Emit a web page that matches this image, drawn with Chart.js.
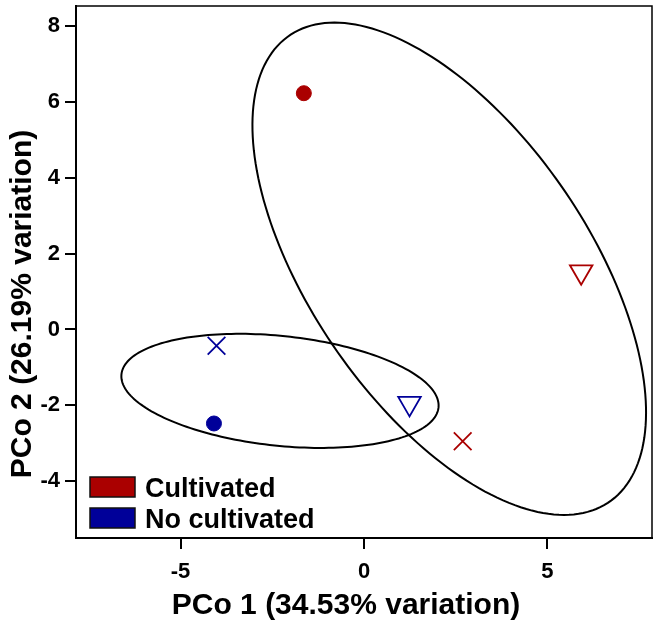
<!DOCTYPE html>
<html>
<head>
<meta charset="utf-8">
<script src="https://cdn.jsdelivr.net/npm/chart.js@4.4.0/dist/chart.umd.min.js"></script>
<style>
  html, body { margin: 0; padding: 0; background: #fff; }
  #wrap { width: 659px; height: 626px; }
</style>
</head>
<body>
<div id="wrap"><canvas id="grafico" width="659" height="626"></canvas></div>
<script>
// datos
const grupos = ["Cultivated", "No cultivated"];
const colores = ["#aa0000", "#000099"];
const formas = ["circle", "crossRot", "triangle"];

const cultX = [-1.64, 2.69, 5.92];
const cultY = [6.23, -2.95, 1.52];
const noCultX = [-4.09, -4.02, 1.24];
const noCultY = [-2.48, -0.43, -1.95];

const xTicks = [-5, 0, 5];
const yTicks = [-4, -2, 0, 2, 4, 6, 8];
const tituloX = "PCo 1 (34.53% variation)";
const tituloY = "PCo 2 (26.19% variation)";

// escala de la elipse (desviaciones)
const kElipse = Math.SQRT2;

const FAM = "'Liberation Sans', Arial, sans-serif";

function puntos(xs, ys) {
  return xs.map((x, i) => ({ x: x, y: ys[i] }));
}

function hacerDataset(nombre, xs, ys, color) {
  return {
    label: nombre,
    data: puntos(xs, ys),
    pointStyle: formas,
    pointRadius: formas.map(f => f === "circle" ? 7.5 : (f === "triangle" ? 13 : 12.5)),
    pointRotation: formas.map(f => f === "triangle" ? 180 : 0),
    pointBorderWidth: formas.map(f => f === "circle" ? 1 : 1.8),
    pointBackgroundColor: formas.map(f => f === "circle" ? color : "rgba(0,0,0,0)"),
    pointBorderColor: color,
    showLine: false,
  };
}

// elipse de covarianza de cada grupo
const elipses = {
  id: "elipses",
  afterDatasetsDraw(chart) {
    const { ctx, scales: { x, y } } = chart;
    chart.data.datasets.forEach(ds => {
      const p = ds.data;
      const n = p.length;
      const mx = p.reduce((a, b) => a + b.x, 0) / n;
      const my = p.reduce((a, b) => a + b.y, 0) / n;
      let sxx = 0, syy = 0, sxy = 0;
      p.forEach(q => {
        sxx += (q.x - mx) ** 2;
        syy += (q.y - my) ** 2;
        sxy += (q.x - mx) * (q.y - my);
      });
      sxx /= n - 1; syy /= n - 1; sxy /= n - 1;
      const tr = (sxx + syy) / 2;
      const d = Math.sqrt(tr * tr - (sxx * syy - sxy * sxy));
      const l1 = tr + d, l2 = tr - d;
      const ang = Math.atan2(l1 - sxx, sxy);
      const a = kElipse * Math.sqrt(l1), b = kElipse * Math.sqrt(l2);
      ctx.save();
      ctx.beginPath();
      for (let i = 0; i <= 200; i++) {
        const t = (i / 200) * 2 * Math.PI;
        const ex = mx + a * Math.cos(t) * Math.cos(ang) - b * Math.sin(t) * Math.sin(ang);
        const ey = my + a * Math.cos(t) * Math.sin(ang) + b * Math.sin(t) * Math.cos(ang);
        const px = x.getPixelForValue(ex), py = y.getPixelForValue(ey);
        if (i === 0) ctx.moveTo(px, py); else ctx.lineTo(px, py);
      }
      ctx.closePath();
      ctx.strokeStyle = "#000";
      ctx.lineWidth = 2;
      ctx.stroke();
      ctx.restore();
    });
  },
};

// marco superior/derecho, titulos y leyenda
const marcoLeyenda = {
  id: "marcoLeyenda",
  afterDraw(chart) {
    const { ctx, chartArea: ca } = chart;
    ctx.save();
    ctx.strokeStyle = "#000";
    ctx.lineWidth = 1.5;
    ctx.beginPath();
    ctx.moveTo(ca.left, ca.top);
    ctx.lineTo(ca.right, ca.top);
    ctx.lineTo(ca.right, ca.bottom);
    ctx.stroke();

    ctx.fillStyle = "#000";
    ctx.font = "bold 30px " + FAM;
    ctx.textAlign = "center";
    ctx.textBaseline = "alphabetic";
    ctx.fillText(tituloX, 346, 614);
    ctx.save();
    ctx.translate(31, 304);
    ctx.rotate(-Math.PI / 2);
    ctx.fillText(tituloY, 0, 0);
    ctx.restore();

    ctx.font = "bold 27px " + FAM;
    ctx.textAlign = "left";
    ctx.textBaseline = "middle";
    grupos.forEach((g, i) => {
      const bx = ca.left + 14, by = ca.bottom - 61 + i * 31;
      ctx.fillStyle = colores[i];
      ctx.fillRect(bx, by, 45, 20);
      ctx.lineWidth = 1.5;
      ctx.strokeStyle = "#111";
      ctx.strokeRect(bx, by, 45, 20);
      ctx.fillStyle = "#000";
      ctx.fillText(g, bx + 55, by + 13);
    });
    ctx.restore();
  },
};

const fuenteTicks = { family: FAM, size: 22, weight: "bold" };

function sinRelleno(s) {
  s.paddingTop = 0; s.paddingBottom = 0; s.paddingLeft = 0; s.paddingRight = 0;
}

new Chart(document.getElementById("grafico").getContext("2d"), {
  type: "scatter",
  data: {
    datasets: [
      hacerDataset(grupos[0], cultX, cultY, colores[0]),
      hacerDataset(grupos[1], noCultX, noCultY, colores[1]),
    ],
  },
  options: {
    responsive: false,
    animation: false,
    layout: { autoPadding: false, padding: { top: 6, right: 7, left: 0, bottom: 0 } },
    plugins: { legend: { display: false }, tooltip: { enabled: false } },
    scales: {
      x: {
        type: "linear",
        min: -7.85,
        max: 7.85,
        afterBuildTicks: s => { s.ticks = xTicks.map(v => ({ value: v })); },
        afterFit: s => { s.height = 88; sinRelleno(s); },
        ticks: { font: fuenteTicks, color: "#000", padding: 10 },
        grid: { drawOnChartArea: false, tickLength: 11, color: "#000", lineWidth: 2 },
        border: { color: "#000", width: 2 },
      },
      y: {
        type: "linear",
        min: -5.5,
        max: 8.53,
        afterBuildTicks: s => { s.ticks = yTicks.map(v => ({ value: v })); },
        afterFit: s => { s.width = 76; sinRelleno(s); },
        ticks: { font: fuenteTicks, color: "#000", padding: 5 },
        grid: { drawOnChartArea: false, tickLength: 11, color: "#000", lineWidth: 2 },
        border: { color: "#000", width: 2 },
      },
    },
  },
  plugins: [elipses, marcoLeyenda],
});
</script>
</body>
</html>
